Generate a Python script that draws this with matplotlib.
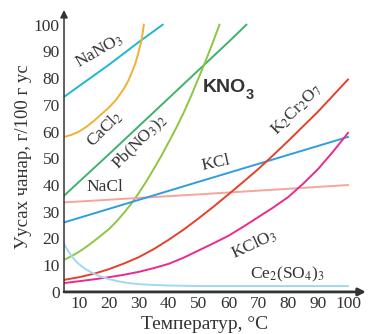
import matplotlib
matplotlib.use("Agg")
import matplotlib.pyplot as plt

plt.rcParams['font.family'] = ['Liberation Serif', 'DejaVu Serif']
plt.rcParams['mathtext.fontset'] = 'stix'

# solubility readings, g per 100 g water
t_nano3 = [5, 10, 20, 30, 38]
s_nano3 = [73, 77, 85, 93.5, 100]

t_cacl2 = [5, 7.5, 10, 12.5, 15, 17.5, 20, 22.5, 25, 26.5, 28, 29, 30, 31, 31.7]
s_cacl2 = [58, 58.8, 60, 61.8, 64, 66.5, 69, 72, 76, 79, 83, 86, 90, 94.5, 100]

t_pbno3 = [5, 20, 40, 60, 66]
s_pbno3 = [36, 51.5, 72.5, 93.5, 100]

t_kno3 = [5, 7.5, 10, 12.5, 15, 17.5, 20, 22.5, 25, 27.5, 30, 32.5, 35,
          37.5, 40, 42.5, 45, 47.5, 50, 52.5, 55, 57]
s_kno3 = [12, 13.4, 15, 16.9, 19, 21.2, 23.5, 26.3, 29.5, 33, 37, 41.3, 46,
          50.8, 56, 61.3, 67, 73.3, 80, 86.8, 94, 100]

t_nacl = [5, 50, 100]
s_nacl = [33.5, 36.5, 40]

t_kcl = [5, 50, 100]
s_kcl = [26, 41.2, 58]

t_k2cr2o7 = [5, 10, 15, 20, 25, 30, 35, 40, 45, 50,
             55, 60, 65, 70, 75, 80, 85, 90, 95, 100]
s_k2cr2o7 = [4.5, 5.5, 6.8, 8.5, 10.6, 13, 16, 19.5, 23.3, 27.5,
             31.9, 36.5, 41.2, 46, 51.2, 56.5, 62, 67.5, 73.5, 79.5]

t_kclo3 = [5, 10, 15, 20, 25, 30, 35, 40, 45, 50,
           55, 60, 65, 70, 75, 80, 85, 90, 95, 100]
s_kclo3 = [3.3, 4, 4.7, 5.5, 6.4, 7.5, 8.9, 10.5, 12.8, 15.5,
           18.2, 21, 24.4, 28, 31.6, 35.5, 40.5, 46, 52.5, 59.5]

t_ce = [5, 6, 7, 8, 9, 10, 12, 14, 16, 18, 20, 23, 26, 30, 35, 40, 50, 100]
s_ce = [18, 16, 14.3, 12.8, 11.5, 10.4, 8.7, 7.4, 6.3, 5.5, 4.8, 4, 3.4,
        2.9, 2.6, 2.4, 2.2, 2.2]

xticks = [10, 20, 30, 40, 50, 60, 70, 80, 90, 100]
yticks = [0, 10, 20, 30, 40, 50, 60, 70, 80, 90, 100]

fig = plt.figure(figsize=(3.7, 3.34), dpi=100)
ax = fig.add_axes([0.173, 0.126, 0.816, 0.844])
ax.set_xlim(5, 106)
ax.set_ylim(0, 105.5)

lw = 1.4
ax.plot(t_nano3, s_nano3, color="#1fb6d4", lw=lw)
ax.plot(t_cacl2, s_cacl2, color="#eeb234", lw=lw)
ax.plot(t_pbno3, s_pbno3, color="#3db36a", lw=lw)
ax.plot(t_kno3, s_kno3, color="#8dc641", lw=lw)
ax.plot(t_nacl, s_nacl, color="#f7a49b", lw=lw)
ax.plot(t_kcl, s_kcl, color="#2f9de0", lw=lw)
ax.plot(t_k2cr2o7, s_k2cr2o7, color="#e4412b", lw=lw)
ax.plot(t_kclo3, s_kclo3, color="#ec2a8e", lw=lw)
ax.plot(t_ce, s_ce, color="#a3d8f2", lw=lw)

lab = dict(fontsize=12.5, color="#333333", ha="center", va="center")
ax.text(17, 90, r"NaNO$_3$", rotation=30, **lab)
ax.text(18.7, 61, r"CaCl$_2$", rotation=45, **lab)
ax.text(30.3, 56, r"Pb(NO$_3$)$_2$", rotation=45, **lab)
kno = ax.text(51.3, 76.5, "KNO", family="Liberation Sans", fontsize=14,
              weight="bold", color="#333333", ha="left", va="center")
ax.annotate("3", xy=(1, 0.05), xycoords=kno, family="Liberation Sans",
            fontsize=10.5, weight="bold", color="#333333", ha="left", va="center")
ax.text(83, 68, r"K$_2$Cr$_2$O$_7$", rotation=45, **lab)
ax.text(55.7, 48.3, "KCl", rotation=12, **lab)
ax.text(18.7, 39.3, "NaCl", **lab)
ax.text(68.7, 18, r"KClO$_3$", rotation=25, **lab)
ax.text(79.7, 6.7, r"Ce$_2$(SO$_4$)$_3$", **lab)

for side in ["top", "right", "left", "bottom"]:
    ax.spines[side].set_visible(False)
ax.annotate("", xy=(1.0, 0), xytext=(0, 0), xycoords="axes fraction",
            arrowprops=dict(arrowstyle="-|>", color="#333333", lw=2.0,
                            mutation_scale=11, shrinkA=0, shrinkB=0))
ax.annotate("", xy=(0, 1.0), xytext=(0, 0), xycoords="axes fraction",
            arrowprops=dict(arrowstyle="-|>", color="#333333", lw=1.1,
                            mutation_scale=11, shrinkA=0, shrinkB=0))

ax.set_xticks(xticks)
ax.set_yticks(yticks)
ax.tick_params(length=0, labelsize=12.5, labelcolor="#333333", pad=3)
ax.set_xlabel("Температур, °C", fontsize=14, color="#333333")
ax.set_ylabel("Уусах чанар, г/100 г ус", fontsize=13.5, color="#333333")
ax.xaxis.set_label_coords(0.464, -0.085)
ax.yaxis.set_label_coords(-0.106, 0.479)

fig.savefig("out.png", dpi=100)
